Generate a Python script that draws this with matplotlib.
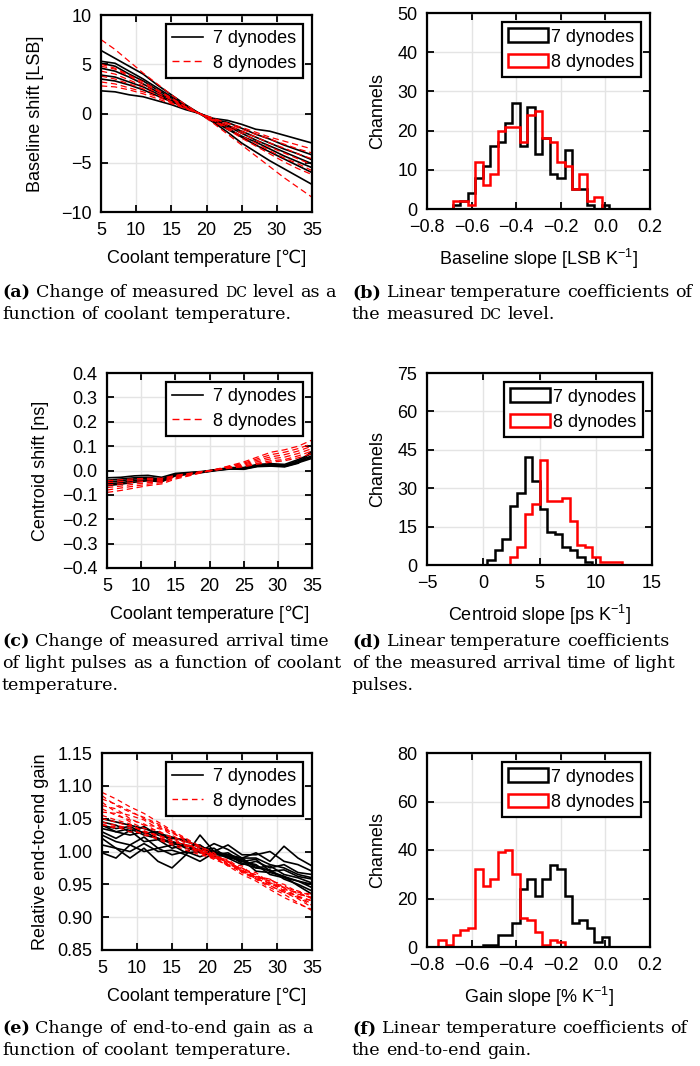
import numpy as np
import matplotlib
matplotlib.use("Agg")
import matplotlib.pyplot as plt
from matplotlib.lines import Line2D
from matplotlib.patches import Patch
from matplotlib.ticker import FuncFormatter

plt.rcParams["font.family"] = ["Liberation Sans", "DejaVu Sans"]
plt.rcParams["mathtext.default"] = "regular"

FS = 13
W, H = 700, 1066

# ---- data -------------------------------------------------------------
temps = [5, 7, 9, 11, 13, 15, 17, 19, 21, 23, 25, 27, 29, 31, 33, 35]

# (a) baseline shift [LSB]
base_7dyn = [
    [6.4, 5.6, 4.8, 4.0, 2.9, 1.9, 0.9, 0.0, -0.9, -1.9, -3.0, -3.9, -4.8, -5.6, -6.4, -7.2],
    [5.3, 5.1, 4.3, 3.5, 2.6, 1.7, 0.8, 0.0, -0.8, -1.6, -2.4, -3.2, -3.9, -4.6, -5.3, -6.0],
    [5.1, 4.8, 4.0, 3.3, 2.4, 1.6, 0.7, 0.0, -0.7, -1.5, -2.3, -2.9, -3.6, -4.3, -4.9, -5.5],
    [4.6, 4.3, 3.7, 3.0, 2.2, 1.4, 0.7, 0.0, -0.7, -1.3, -2.0, -2.7, -3.3, -3.9, -4.5, -5.1],
    [3.9, 3.7, 3.2, 2.7, 2.0, 1.3, 0.6, 0.0, -0.6, -1.2, -1.8, -2.4, -3.0, -3.6, -4.1, -4.7],
    [3.5, 3.3, 2.9, 2.4, 1.8, 1.2, 0.6, 0.0, -0.6, -0.9, -1.5, -2.1, -2.6, -3.2, -3.7, -4.2],
    [2.3, 2.2, 1.9, 1.7, 1.3, 0.9, 0.4, 0.0, -0.5, -0.7, -1.1, -1.6, -1.8, -2.2, -2.6, -3.0],
]
base_8dyn = [
    [7.5, 6.5, 5.3, 4.1, 3.0, 1.9, 0.9, 0.0, -1.0, -2.1, -3.2, -4.3, -5.4, -6.5, -7.5, -8.5],
    [5.0, 4.6, 3.9, 3.2, 2.4, 1.6, 0.7, 0.0, -0.8, -1.6, -2.5, -3.3, -4.1, -4.9, -5.6, -6.2],
    [4.8, 4.5, 3.8, 3.0, 2.3, 1.5, 0.7, 0.0, -0.7, -1.5, -2.3, -3.0, -3.8, -4.5, -5.1, -5.8],
    [4.3, 4.0, 3.4, 2.8, 2.1, 1.4, 0.6, 0.0, -0.7, -1.4, -2.0, -2.7, -3.4, -4.0, -4.6, -5.2],
    [3.8, 3.5, 3.0, 2.5, 1.9, 1.2, 0.6, 0.0, -0.6, -1.2, -1.8, -2.4, -3.0, -3.5, -4.1, -4.6],
    [3.2, 3.0, 2.6, 2.2, 1.7, 1.1, 0.5, 0.0, -0.5, -1.0, -1.6, -2.1, -2.6, -3.1, -3.6, -4.0],
    [2.8, 2.7, 2.4, 2.0, 1.5, 1.0, 0.5, 0.0, -0.5, -1.0, -1.4, -1.9, -2.4, -2.8, -3.2, -3.6],
]

# (c) centroid shift [ns]
cent_7dyn = [
    [-0.030, -0.028, -0.022, -0.020, -0.028, -0.012, -0.008, -0.004, 0.004, 0.012, 0.012, 0.025, 0.028, 0.025, 0.045, 0.070],
    [-0.040, -0.035, -0.030, -0.028, -0.035, -0.015, -0.010, -0.005, 0.003, 0.010, 0.010, 0.022, 0.025, 0.020, 0.040, 0.060],
    [-0.048, -0.042, -0.035, -0.032, -0.040, -0.018, -0.012, -0.006, 0.002, 0.008, 0.008, 0.020, 0.022, 0.018, 0.035, 0.055],
    [-0.055, -0.050, -0.042, -0.038, -0.044, -0.020, -0.014, -0.007, 0.001, 0.007, 0.006, 0.018, 0.020, 0.017, 0.032, 0.050],
    [-0.062, -0.056, -0.048, -0.042, -0.046, -0.022, -0.015, -0.008, 0.000, 0.006, 0.005, 0.016, 0.018, 0.015, 0.030, 0.080],
]
cent_8dyn = [
    [-0.090, -0.082, -0.072, -0.062, -0.055, -0.035, -0.022, -0.008, 0.005, 0.020, 0.035, 0.055, 0.075, 0.085, 0.100, 0.125],
    [-0.080, -0.072, -0.064, -0.056, -0.050, -0.030, -0.020, -0.007, 0.004, 0.018, 0.030, 0.048, 0.065, 0.075, 0.090, 0.110],
    [-0.070, -0.064, -0.056, -0.050, -0.045, -0.028, -0.018, -0.006, 0.004, 0.016, 0.026, 0.042, 0.056, 0.065, 0.080, 0.100],
    [-0.060, -0.055, -0.048, -0.044, -0.040, -0.025, -0.016, -0.005, 0.003, 0.014, 0.022, 0.036, 0.048, 0.055, 0.070, 0.090],
    [-0.050, -0.046, -0.040, -0.037, -0.036, -0.022, -0.014, -0.004, 0.003, 0.012, 0.018, 0.030, 0.040, 0.045, 0.060, 0.080],
    [-0.042, -0.038, -0.034, -0.032, -0.032, -0.020, -0.012, -0.004, 0.002, 0.010, 0.015, 0.026, 0.034, 0.040, 0.052, 0.070],
]

# (e) relative end-to-end gain
gain_7dyn = [
    [1.050, 1.045, 1.040, 1.035, 1.028, 1.022, 1.015, 1.008, 1.000, 0.992, 0.985, 0.978, 0.970, 0.962, 0.955, 0.945],
    [1.045, 1.040, 1.030, 1.038, 1.025, 1.020, 1.018, 1.005, 0.998, 0.995, 0.982, 0.975, 0.972, 0.958, 0.950, 0.940],
    [1.040, 1.035, 1.038, 1.028, 1.030, 1.015, 1.010, 1.002, 1.005, 0.990, 0.988, 0.970, 0.968, 0.962, 0.948, 0.935],
    [1.035, 1.030, 1.025, 1.030, 1.020, 1.012, 1.008, 1.010, 0.995, 0.998, 0.985, 0.980, 0.965, 0.960, 0.955, 0.950],
    [1.030, 1.020, 1.032, 1.015, 1.018, 1.005, 1.010, 0.998, 1.000, 0.992, 0.990, 0.975, 0.978, 0.965, 0.960, 0.952],
    [1.025, 1.015, 1.010, 1.022, 1.005, 1.010, 0.998, 1.000, 0.992, 0.995, 0.985, 0.988, 0.970, 0.972, 0.962, 0.958],
    [1.020, 1.005, 1.000, 1.012, 1.000, 1.002, 0.995, 0.985, 0.998, 0.990, 0.980, 0.985, 0.975, 0.980, 0.968, 0.965],
    [1.010, 1.005, 0.990, 1.005, 0.985, 0.975, 0.995, 1.025, 1.000, 0.995, 0.990, 0.998, 0.985, 1.008, 0.990, 0.978],
    [0.998, 0.990, 1.010, 1.000, 1.005, 0.995, 1.000, 0.992, 1.000, 1.010, 0.995, 0.995, 1.000, 0.985, 0.980, 0.970],
    [1.040, 1.030, 1.035, 1.025, 1.020, 1.015, 1.005, 1.000, 1.012, 1.003, 0.990, 0.990, 0.980, 0.975, 0.965, 0.960],
]
gain_8dyn = [
    [1.090, 1.080, 1.068, 1.058, 1.045, 1.032, 1.020, 1.008, 0.995, 0.982, 0.970, 0.958, 0.945, 0.935, 0.922, 0.910],
    [1.080, 1.072, 1.062, 1.050, 1.040, 1.028, 1.018, 1.005, 0.995, 0.985, 0.972, 0.960, 0.948, 0.938, 0.928, 0.915],
    [1.075, 1.060, 1.055, 1.048, 1.035, 1.030, 1.015, 1.008, 0.998, 0.980, 0.975, 0.962, 0.955, 0.940, 0.932, 0.920],
    [1.070, 1.065, 1.050, 1.040, 1.038, 1.025, 1.012, 1.002, 0.992, 0.985, 0.970, 0.965, 0.950, 0.945, 0.930, 0.925],
    [1.065, 1.055, 1.048, 1.042, 1.030, 1.022, 1.015, 1.000, 0.995, 0.982, 0.978, 0.960, 0.958, 0.942, 0.938, 0.928],
    [1.060, 1.058, 1.045, 1.035, 1.032, 1.020, 1.010, 1.003, 0.990, 0.988, 0.972, 0.968, 0.952, 0.948, 0.935, 0.930],
    [1.055, 1.048, 1.042, 1.030, 1.025, 1.018, 1.008, 0.998, 0.993, 0.980, 0.975, 0.962, 0.958, 0.945, 0.940, 0.932],
    [1.050, 1.045, 1.038, 1.032, 1.022, 1.015, 1.010, 1.000, 0.990, 0.985, 0.970, 0.960, 0.955, 0.950, 0.938, 0.935],
    [1.045, 1.040, 1.035, 1.025, 1.020, 1.012, 1.005, 0.998, 0.988, 0.980, 0.968, 0.965, 0.950, 0.945, 0.935, 0.930],
    [1.040, 1.038, 1.030, 1.028, 1.018, 1.010, 1.002, 0.995, 0.990, 0.978, 0.972, 0.958, 0.952, 0.940, 0.932, 0.925],
    [1.085, 1.070, 1.060, 1.052, 1.042, 1.030, 1.018, 1.005, 0.992, 0.978, 0.965, 0.955, 0.942, 0.930, 0.920, 0.912],
    [1.042, 1.035, 1.040, 1.030, 1.025, 1.015, 1.010, 1.000, 0.995, 0.985, 0.968, 0.958, 0.948, 0.938, 0.930, 0.918],
]

# (b) baseline slope histogram, bins of 1/30 LSB/K centred on k/30
bslope_bin_w = 1 / 30
bslope_lo, bslope_hi = -24, 6          # first/last bin index on the axis
bslope_7dyn_first = -20
bslope_7dyn = [1, 2, 4, 8, 11, 16, 17, 22, 27, 16, 26, 14, 18, 9, 8, 15, 5, 5, 1, 0, 1]
bslope_8dyn_first = -20
bslope_8dyn = [2, 2, 1, 12, 6, 9, 20, 21, 21, 17, 24, 25, 18, 17, 12, 11, 5, 9, 2, 3]

# (d) centroid slope histogram, bins of 2/3 ps/K starting at -5
cslope_start, cslope_bin_w, cslope_nbins = -5, 2 / 3, 30
cslope_7dyn_first = 8
cslope_7dyn = [2, 6, 10, 23, 28, 42, 33, 22, 13, 12, 7, 6, 3, 1]
cslope_8dyn_first = 11
cslope_8dyn = [3, 7, 20, 24, 41, 25, 25, 26, 17, 8, 7, 3, 1, 1, 1]

# (f) gain slope histogram, bins of 1/30 %/K centred on k/30
gslope_bin_w = 1 / 30
gslope_lo, gslope_hi = -24, 6
gslope_7dyn_first = -16
gslope_7dyn = [1, 1, 5, 5, 10, 24, 28, 21, 28, 34, 32, 21, 10, 11, 8, 2, 4]
gslope_8dyn_first = -22
gslope_8dyn = [3, 1, 5, 7, 8, 32, 25, 28, 39, 40, 30, 12, 11, 6, 1, 3, 2]

labels = ["7 dynodes", "8 dynodes"]


# ---- helpers ------------------------------------------------------------
def centred_hist(counts, first, lo, hi, w):
    full = np.zeros(hi - lo + 1)
    full[first - lo:first - lo + len(counts)] = counts
    edges = (np.arange(lo, hi + 2) - 0.5) * w
    return full, edges


def edge_hist(counts, first, start, w, n):
    full = np.zeros(n)
    full[first:first + len(counts)] = counts
    edges = start + np.arange(n + 1) * w
    return full, edges


def num_fmt(dec):
    def f(v, pos):
        s = f"{v:.{dec}f}"
        if float(s) == 0:
            s = f"{0:.{dec}f}"
        return s.replace("-", "\u2212")
    return FuncFormatter(f)


def style(ax):
    ax.grid(True, color="#e4e4e4", lw=1.0)
    ax.set_axisbelow(True)
    ax.tick_params(direction="in", top=True, right=True, length=5, width=1.3,
                   labelsize=FS, pad=7)
    for s in ax.spines.values():
        s.set_linewidth(1.6)


def line_legend(ax, dash):
    h = [Line2D([], [], color="k", lw=1.2),
         Line2D([], [], color="red", lw=1.0, ls=(0, dash))]
    leg = ax.legend(h, labels, loc="upper right", fontsize=FS, fancybox=False,
                    edgecolor="k", framealpha=1, borderaxespad=0.5,
                    handlelength=1.75, handletextpad=0.55, labelspacing=0.4,
                    borderpad=0.35)
    leg.get_frame().set_linewidth(1.6)


def hist_legend(ax):
    h = [Patch(facecolor="white", edgecolor="k", lw=1.8),
         Patch(facecolor="white", edgecolor="red", lw=1.8)]
    leg = ax.legend(h, labels, loc="upper right", fontsize=FS, fancybox=False,
                    edgecolor="k", framealpha=1, borderaxespad=0.5,
                    handlelength=2.2, handleheight=0.8, handletextpad=0.2,
                    labelspacing=0.45, borderpad=0.35)
    leg.get_frame().set_linewidth(1.6)


def line_panel(ax, s7, s8, ylim, yticks, ylabel, dec, ypad, dash):
    for v in s7:
        ax.plot(temps, v, color="k", lw=1.2)
    for v in s8:
        ax.plot(temps, v, color="red", lw=0.9, ls=(0, dash))
    ax.set_xlim(5, 35)
    ax.set_ylim(*ylim)
    ax.set_xticks([5, 10, 15, 20, 25, 30, 35])
    ax.set_yticks(yticks)
    ax.yaxis.set_major_formatter(num_fmt(dec))
    ax.set_xlabel("Coolant temperature [℃]", fontsize=FS, labelpad=8)
    ax.set_ylabel(ylabel, fontsize=FS, labelpad=ypad)
    style(ax)
    line_legend(ax, dash)


def hist_panel(ax, h7, h8, xlim, xticks, ylim, yticks, xlabel, xdec):
    ax.stairs(h7[0], h7[1], color="k", lw=1.8, baseline=0)
    ax.stairs(h8[0], h8[1], color="red", lw=1.8, baseline=0)
    ax.set_xlim(*xlim)
    ax.set_ylim(*ylim)
    ax.set_xticks(xticks)
    ax.set_yticks(yticks)
    ax.xaxis.set_major_formatter(num_fmt(xdec))
    ax.set_xlabel(xlabel, fontsize=FS, labelpad=8)
    ax.set_ylabel("Channels", fontsize=FS, labelpad=8)
    style(ax)
    hist_legend(ax)


def px_axes(x0, y0, x1, y1):
    return fig.add_axes([x0 / W, 1 - y1 / H, (x1 - x0) / W, (y1 - y0) / H])


fig = plt.figure(figsize=(W / 100, H / 100), dpi=100)

ax = px_axes(101, 15, 312, 212)
line_panel(ax, base_7dyn, base_8dyn, (-10, 10), [-10, -5, 0, 5, 10],
           "Baseline shift [LSB]", 0, 12, (5, 3))

ax = px_axes(427, 13, 650, 209)
hist_panel(ax, centred_hist(bslope_7dyn, bslope_7dyn_first, bslope_lo, bslope_hi, bslope_bin_w),
           centred_hist(bslope_8dyn, bslope_8dyn_first, bslope_lo, bslope_hi, bslope_bin_w),
           (-0.8, 0.2), [-0.8, -0.6, -0.4, -0.2, 0.0, 0.2], (0, 50), range(0, 51, 10),
           "Baseline slope [LSB K$^{-1}$]", 1)

ax = px_axes(107, 373, 312, 568)
line_panel(ax, cent_7dyn, cent_8dyn, (-0.4, 0.4),
           [-0.4, -0.3, -0.2, -0.1, 0.0, 0.1, 0.2, 0.3, 0.4],
           "Centroid shift [ns]", 1, 9, (5, 3))

ax = px_axes(427, 373, 652, 565)
hist_panel(ax, edge_hist(cslope_7dyn, cslope_7dyn_first, cslope_start, cslope_bin_w, cslope_nbins),
           edge_hist(cslope_8dyn, cslope_8dyn_first, cslope_start, cslope_bin_w, cslope_nbins),
           (-5, 15), [-5, 0, 5, 10, 15], (0, 75), range(0, 76, 15),
           "Centroid slope [ps K$^{-1}$]", 0)

ax = px_axes(102, 753, 312, 950)
line_panel(ax, gain_7dyn, gain_8dyn, (0.85, 1.15),
           [0.85, 0.90, 0.95, 1.00, 1.05, 1.10, 1.15],
           "Relative end-to-end gain", 2, 6, (4, 3))

ax = px_axes(427, 753, 650, 947)
hist_panel(ax, centred_hist(gslope_7dyn, gslope_7dyn_first, gslope_lo, gslope_hi, gslope_bin_w),
           centred_hist(gslope_8dyn, gslope_8dyn_first, gslope_lo, gslope_hi, gslope_bin_w),
           (-0.8, 0.2), [-0.8, -0.6, -0.4, -0.2, 0.0, 0.2], (0, 80), range(0, 81, 20),
           "Gain slope [% K$^{-1}$]", 1)

# ---- sub-captions -------------------------------------------------------
CFS = 12.6
renderer = fig.canvas.get_renderer()
SERIF = ["DejaVu Serif"]


def caption_line(x, y, chunks):
    for s, kind in chunks:
        kw = dict(family=SERIF, size=CFS, va="baseline")
        if kind == "b":
            kw["weight"] = "bold"
        elif kind == "sc":
            kw["size"] = CFS * 0.8
        if s == " ":
            t = fig.text(0, 0, "a a", **kw)
            t2 = fig.text(0, 0, "aa", **kw)
            x += t.get_window_extent(renderer).width - t2.get_window_extent(renderer).width
            t.remove()
            t2.remove()
            continue
        t = fig.text(x / W, 1 - y / H, s, **kw)
        x += t.get_window_extent(renderer).width


def sp(s):
    out = []
    for i, w in enumerate(s.split(" ")):
        if i:
            out.append((" ", ""))
        if w:
            out.append((w, ""))
    return out


captions = [
    (2, 297, [("(a)", "b"), (" ", "")] + sp("Change of measured") + [(" ", ""), ("DC", "sc"), (" ", "")] + sp("level as a")),
    (2, 319, sp("function of coolant temperature.")),
    (352, 297, [("(b)", "b"), (" ", "")] + sp("Linear temperature coefficients of")),
    (352, 319, sp("the measured") + [(" ", ""), ("DC", "sc"), (" ", "")] + sp("level.")),
    (2, 646, [("(c)", "b"), (" ", "")] + sp("Change of measured arrival time")),
    (2, 668, sp("of light pulses as a function of coolant")),
    (2, 690, sp("temperature.")),
    (352, 646, [("(d)", "b"), (" ", "")] + sp("Linear temperature coefficients")),
    (352, 668, sp("of the measured arrival time of light")),
    (352, 690, sp("pulses.")),
    (2, 1033, [("(e)", "b"), (" ", "")] + sp("Change of end-to-end gain as a")),
    (2, 1055, sp("function of coolant temperature.")),
    (352, 1033, [("(f)", "b"), (" ", "")] + sp("Linear temperature coefficients of")),
    (352, 1055, sp("the end-to-end gain.")),
]
for x, y, chunks in captions:
    caption_line(x, y, chunks)

fig.savefig("out.png", dpi=100)
